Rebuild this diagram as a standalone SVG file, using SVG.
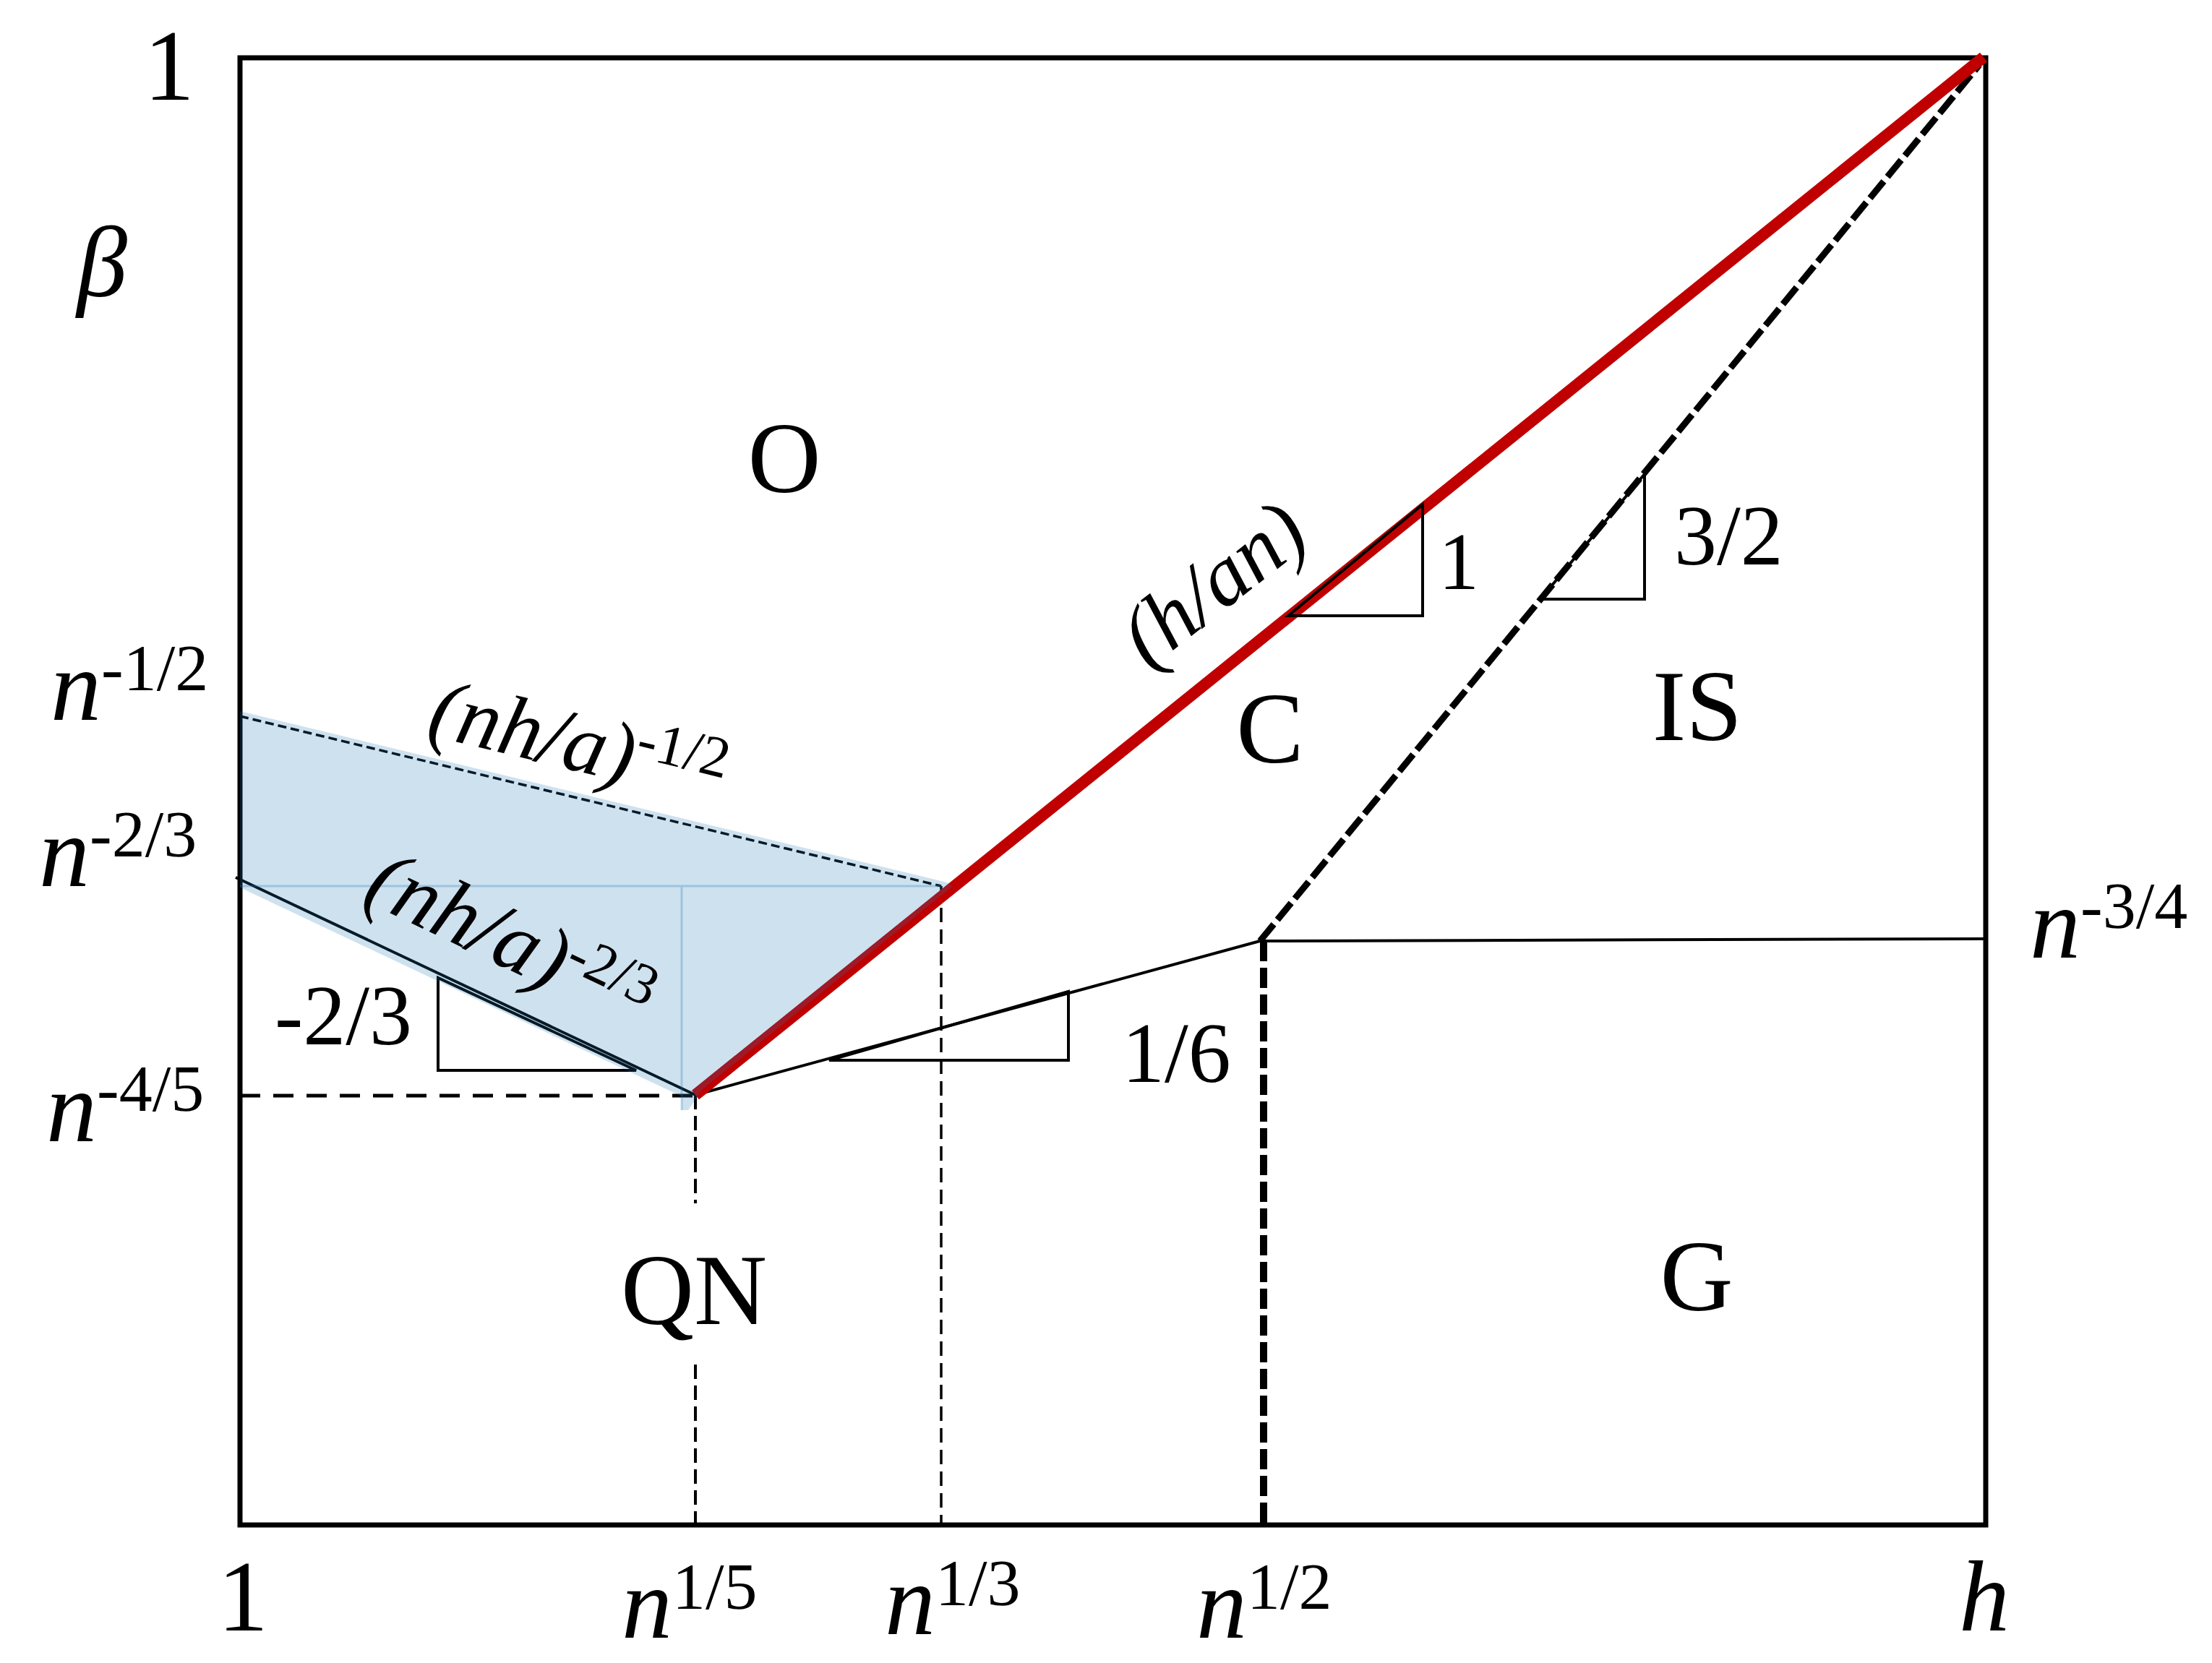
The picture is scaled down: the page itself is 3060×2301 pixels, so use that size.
<svg xmlns="http://www.w3.org/2000/svg" width="3060" height="2301" viewBox="0 0 3060 2301">
<style>
  text { font-family: "Liberation Serif", "Times New Roman", serif; fill: #000; }
  .it { font-style: italic; }
  .ax { font-size: 140px; }
  .sup { font-size: 92px; font-style: normal; }
  .reg { font-size: 140px; text-anchor: middle; }
  .slope { font-size: 118px; }
  .thin { fill: none; stroke: #000; stroke-width: 4; }
  .tri { fill: none; stroke: #000; stroke-width: 4; stroke-linejoin: miter; }
</style>
<rect width="3060" height="2301" fill="#fff"/>

<g id="frame">
  <rect x="332" y="80" width="2415" height="2030" fill="none" stroke="#000" stroke-width="7"/>
</g>

<g id="connectors">
  <line id="n15-upper" x1="962" y1="1515" x2="962" y2="1665" stroke="#000" stroke-width="4" stroke-dasharray="20 9"/>
  <line id="n15-lower" x1="962" y1="1888" x2="962" y2="2110" stroke="#000" stroke-width="4" stroke-dasharray="20 9"/>
  <line id="n13" x1="1302" y1="1226" x2="1302" y2="2110" stroke="#000" stroke-width="3.5" stroke-dasharray="20 10"/>
  <line id="n45" x1="332" y1="1516" x2="962" y2="1516" stroke="#000" stroke-width="5" stroke-dasharray="28 18"/>
  <line id="nha12" x1="332" y1="991" x2="1302" y2="1226" stroke="#000" stroke-width="3.5" stroke-dasharray="12 6"/>
  <line id="nha23" x1="326" y1="1214" x2="962" y2="1515" class="thin"/>
  <line id="sixth" x1="962" y1="1515" x2="1743" y2="1302" class="thin"/>
  <line id="n34" x1="1743" y1="1302" x2="2745" y2="1299" class="thin"/>
  <line id="n12" x1="1748" y1="1302" x2="1748" y2="2110" stroke="#000" stroke-width="10" stroke-dasharray="28 9"/>
  <line id="threehalf" x1="1743" y1="1302" x2="2738" y2="90" stroke="#000" stroke-width="9" stroke-dasharray="30 8"/>
  <line id="red" x1="962" y1="1515" x2="2744" y2="79" stroke="#C00000" stroke-width="16"/>
</g>

<g id="slope-triangles">
  <polygon points="606,1353 606,1481 880,1481" class="tri"/>
  <polygon points="1782,852 1968,852 1968,698" class="tri"/>
  <polygon points="1147,1467 1478,1467 1478,1372" class="tri"/>
  <polygon points="2131,829 2275,829 2275,656" class="tri"/>
</g>

<g id="shaded-region">
  <path d="M332,984 L1310,1221 L1318,1226 L971,1508 L952,1536 L943,1536 L943,1517 L332,1228 Z" fill="#1f77b4" fill-opacity="0.22"/>
  <path d="M332,1226 L1302,1226 M943,1226 L943,1536" fill="none" stroke="#1f77b4" stroke-opacity="0.28" stroke-width="3"/>
</g>

<g id="axis-labels">
  <text x="234" y="138" class="ax" text-anchor="middle">1</text>
  <text x="141" y="410" class="ax it" text-anchor="middle">β</text>
  <text x="70" y="996" class="ax"><tspan class="it">n</tspan><tspan class="sup" dy="-41">-1/2</tspan></text>
  <text x="54" y="1226" class="ax"><tspan class="it">n</tspan><tspan class="sup" dy="-41">-2/3</tspan></text>
  <text x="64" y="1579" class="ax"><tspan class="it">n</tspan><tspan class="sup" dy="-42">-4/5</tspan></text>
  <text x="2808" y="1325" class="ax"><tspan class="it">n</tspan><tspan class="sup" dy="-41">-3/4</tspan></text>
  <text x="336" y="2256" class="ax" text-anchor="middle">1</text>
  <text x="860" y="2266" class="ax"><tspan class="it">n</tspan><tspan class="sup" dy="-40">1/5</tspan></text>
  <text x="1224" y="2261" class="ax"><tspan class="it">n</tspan><tspan class="sup" dy="-40">1/3</tspan></text>
  <text x="1655" y="2266" class="ax"><tspan class="it">n</tspan><tspan class="sup" dy="-40">1/2</tspan></text>
  <text x="2710" y="2256" class="ax it">h</text>
</g>

<g id="region-labels">
  <text id="O" x="1085" y="681" class="reg">O</text>
  <text id="C" x="1757" y="1055" class="reg">C</text>
  <text id="IS" x="2348" y="1024" class="reg">IS</text>
  <text id="QN" x="960" y="1832" class="reg">QN</text>
  <text id="G" x="2347" y="1813" class="reg">G</text>
</g>

<g id="slope-labels">
  <text x="380" y="1445" class="slope">-2/3</text>
  <text x="1990" y="815" class="slope" style="font-size:112px">1</text>
  <text x="2316" y="781" class="slope">3/2</text>
  <text x="1552" y="1497" class="slope">1/6</text>
</g>

<g id="curve-labels">
  <text transform="translate(1702,838) rotate(-38)" text-anchor="middle" style="font-size:118px" class="it">(h/an)</text>
  <text transform="translate(791,1065) rotate(13.6)" text-anchor="middle" style="font-size:118px"><tspan class="it">(nh/a)</tspan><tspan style="font-size:80px" dy="-38">-1/2</tspan></text>
  <text transform="translate(690,1335) rotate(25.4)" text-anchor="middle" style="font-size:120px"><tspan class="it">(nh/a)</tspan><tspan style="font-size:80px" dy="-35">-2/3</tspan></text>
</g>
</svg>
